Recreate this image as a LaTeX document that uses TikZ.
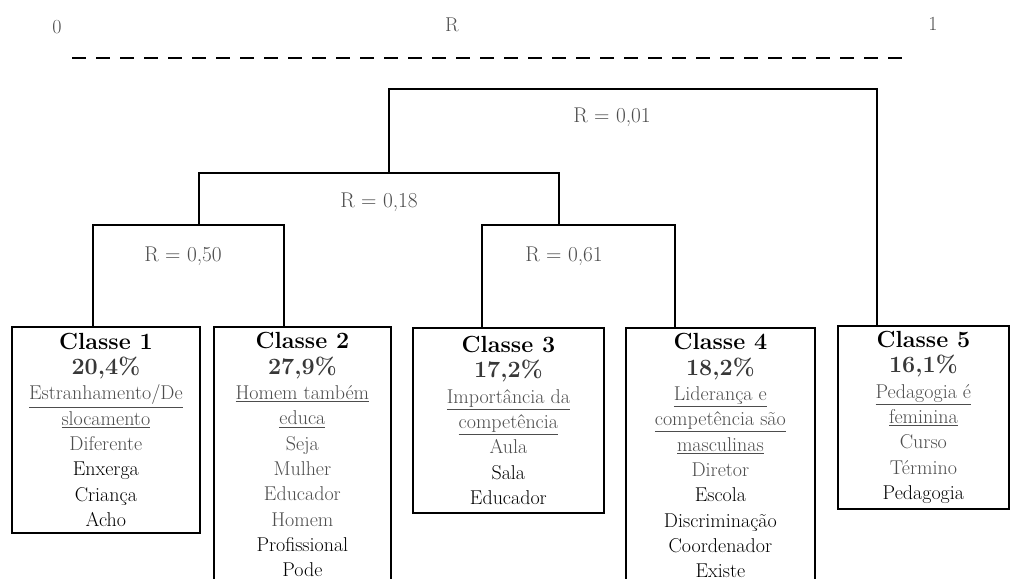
\documentclass[tikz,border=0pt]{standalone}
\usepackage{fontspec}
\usepackage{xcolor}
\definecolor{txtgray}{HTML}{4D4D4D}
\definecolor{pctgray}{HTML}{383838}
\newcommand{\gw}[1]{\textcolor{txtgray}{#1}}
\newcommand{\myul}[1]{\textcolor{txtgray}{\underline{#1}}}
\newcommand{\hd}[1]{{\fontsize{17.5pt}{19pt}\selectfont\bfseries #1}}
\newcommand{\pct}[1]{{\fontsize{17.5pt}{19pt}\selectfont\bfseries\color{pctgray}#1}}
\begin{document}
\begin{tikzpicture}[x=0.75pt,y=-0.75pt,
  conn/.style={line width=1.3pt},
  cbox/.style={draw,line width=1.3pt,anchor=north west,align=center,inner sep=0pt,font=\fontsize{15pt}{19pt}\selectfont},
  rlab/.style={text=txtgray,font=\fontsize{16pt}{18pt}\selectfont},
  toplab/.style={text=txtgray,font=\fontsize{15pt}{18pt}\selectfont}]
\useasboundingbox (0,0) rectangle (1012,578);
\fill[white] (0,0) rectangle (1012,578);

\node[toplab] (t0) at (57,27) {0};
\node[toplab] (tR) at (452,25) {R};
\node[toplab] (t1) at (933,24) {1};
\coordinate (dl) at (72,58);
\coordinate (dr) at (910,58);
\draw[line width=1.5pt, dash pattern=on 10.5pt off 7.5pt] (dl) -- (dr);

\node[cbox, minimum width=141pt, minimum height=154.5pt] (c1) at (11,326)
  {\hd{Classe 1}\\ \pct{20,4\%}\\ \myul{Estranhamento/De}\\ \myul{slocamento}\\ \gw{Diferente}\\ Enxerga\\ Criança\\ Acho};
\node[cbox, minimum width=132.75pt, minimum height=192pt] (c2) at (213,326)
  {\hd{Classe 2}\\ \pct{27,9\%}\\ \myul{Homem também}\\ \myul{educa}\\ \gw{Seja}\\ \gw{Mulher}\\ \gw{Educador}\\ \gw{Homem}\\ Profissional\\ Pode};
\node[cbox, minimum width=143.25pt, minimum height=138.75pt] (c3) at (412,327)
  {\hd{Classe 3}\\ \pct{17,2\%}\\ \myul{Importância da}\\ \myul{competência}\\ \gw{Aula}\\ Sala\\ Educador};
\node[cbox, minimum width=141.75pt, minimum height=192pt] (c4) at (625,327)
  {\hd{Classe 4}\\ \pct{18,2\%}\\ \myul{Liderança e}\\ \myul{competência são}\\ \myul{masculinas}\\ \gw{Diretor}\\ Escola\\ Discriminação\\ Coordenador\\ Existe};
\node[cbox, minimum width=128.25pt, minimum height=137.25pt] (c5) at (837,325)
  {\hd{Classe 5}\\ \pct{16,1\%}\\ \myul{Pedagogia é}\\ \myul{feminina}\\ \gw{Curso}\\ \gw{Término}\\ Pedagogia};

\coordinate (b01l) at (389,89);
\coordinate (b01r) at (877,89);
\coordinate (b18t) at (389,173);
\coordinate (b18l) at (199,173);
\coordinate (b18r) at (559,173);
\coordinate (b50t) at (199,225);
\coordinate (b61t) at (559,225);
\coordinate (b50l) at (93,225);
\coordinate (b50r) at (284,225);
\coordinate (b61l) at (482,225);
\coordinate (b61r) at (675,225);

\draw[conn] (b18t) -- (b01l) -- (b01r) -- (b01r |- c5.north);
\draw[conn] (b50t) -- (b18l) -- (b18r) -- (b61t);
\draw[conn] (b50l |- c1.north) -- (b50l) -- (b50r) -- (b50r |- c2.north);
\draw[conn] (b61l |- c3.north) -- (b61l) -- (b61r) -- (b61r |- c4.north);

\node[rlab] (r01) at (612,117) {R = 0,01};
\node[rlab] (r18) at (379,202) {R = 0,18};
\node[rlab] (r50) at (183,256) {R = 0,50};
\node[rlab] (r61) at (564,256) {R = 0,61};
\end{tikzpicture}
\end{document}
